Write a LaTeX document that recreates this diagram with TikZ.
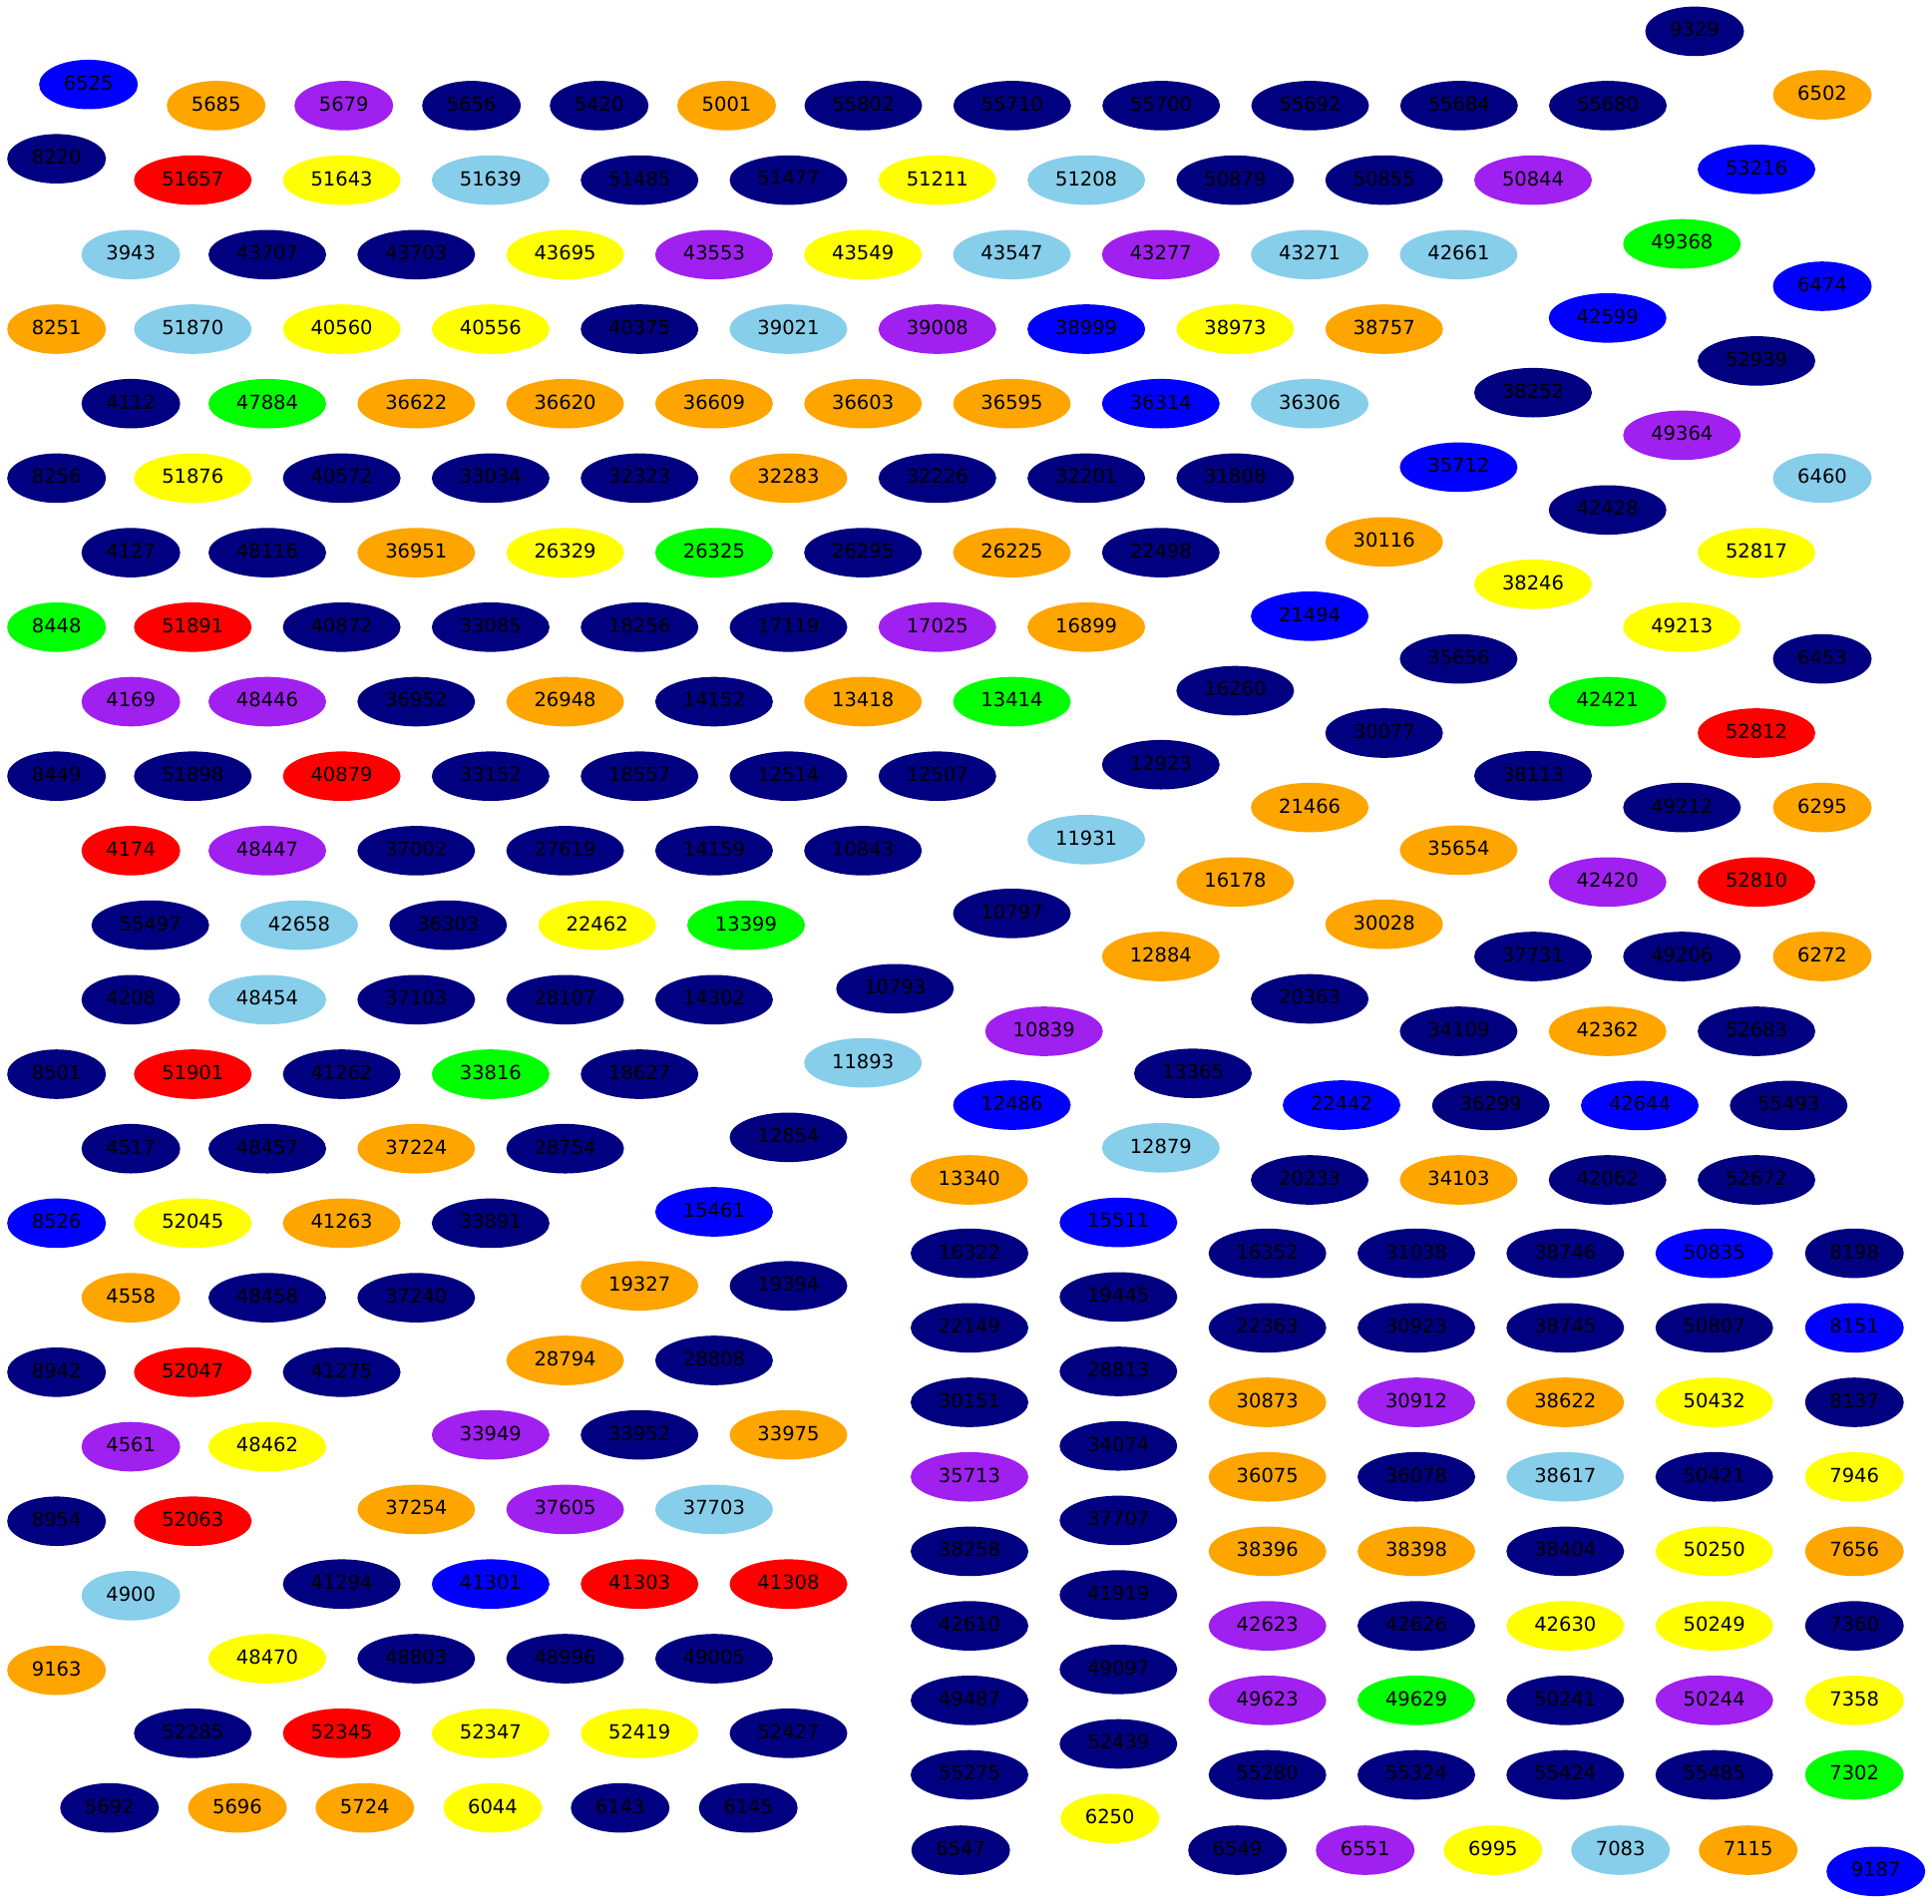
\documentclass[tikz,border=0pt]{standalone}
\usepackage{fontspec}
\usetikzlibrary{shapes.geometric}
\newfontfamily\gfont{DejaVu Sans}
\definecolor{cN}{RGB}{0,0,128}
\definecolor{cB}{RGB}{0,0,255}
\definecolor{cO}{RGB}{255,165,0}
\definecolor{cP}{RGB}{160,32,240}
\definecolor{cR}{RGB}{255,0,0}
\definecolor{cY}{RGB}{255,255,0}
\definecolor{cS}{RGB}{135,206,235}
\definecolor{cG}{RGB}{0,255,0}
\tikzset{gn/.style={ellipse, inner sep=0pt, minimum height=49.6pt, text=black, text depth=3.6pt,
  font=\gfont\fontsize{19.5}{20}\selectfont}}
\newcommand{\gnF}[4]{\node[gn,minimum width=99pt,fill=c#3] (n#4) at (#1,#2) {#4};}
\newcommand{\gnV}[4]{\node[gn,minimum width=118pt,fill=c#3] (n#4) at (#1,#2) {#4};}
\begin{document}
\begin{tikzpicture}[x=1pt,y=-1pt]
\useasboundingbox (0,0) rectangle (1937,1908);
% top
\gnF{88.7}{84.7}{B}{6525}
\gnF{56.7}{159.2}{N}{8220}
\gnF{216.7}{105.9}{O}{5685}
\gnF{344.7}{105.9}{P}{5679}
\gnF{472.7}{105.9}{N}{5656}
\gnF{600.7}{105.9}{N}{5420}
\gnF{728.5}{105.9}{O}{5001}
\gnV{865.5}{105.9}{N}{55802}
\gnV{1014.8}{105.9}{N}{55710}
\gnV{1164.2}{105.9}{N}{55700}
\gnV{1313.5}{105.9}{N}{55692}
\gnV{1462.8}{105.9}{N}{55684}
\gnV{1612}{105.9}{N}{55680}
\gnF{1699}{31.4}{N}{9329}
\gnF{1827}{95.1}{O}{6502}
% r1
\gnV{193.3}{180.6}{R}{51657}
\gnV{342.6}{180.6}{Y}{51643}
\gnV{491.9}{180.6}{S}{51639}
\gnV{641.2}{180.6}{N}{51485}
\gnV{790.5}{180.6}{N}{51477}
\gnV{939.8}{180.6}{Y}{51211}
\gnV{1089.1}{180.6}{S}{51208}
\gnV{1238.4}{180.6}{N}{50879}
\gnV{1387.7}{180.6}{N}{50855}
\gnV{1537}{180.6}{P}{50844}
\gnV{1761}{169.8}{B}{53216}
% r2
\gnF{131.2}{255.3}{S}{3943}
\gnV{268}{255.3}{N}{43707}
\gnV{417.3}{255.3}{N}{43703}
\gnV{566.6}{255.3}{Y}{43695}
\gnV{715.9}{255.3}{P}{43553}
\gnV{865.2}{255.3}{Y}{43549}
\gnV{1014.5}{255.3}{S}{43547}
\gnV{1163.8}{255.3}{P}{43277}
\gnV{1313.1}{255.3}{S}{43271}
\gnV{1462.4}{255.3}{S}{42661}
\gnV{1686.3}{244.5}{G}{49368}
\gnF{1827}{287}{B}{6474}
% r3
\gnF{56.7}{330}{O}{8251}
\gnV{193.3}{330}{S}{51870}
\gnV{342.6}{330}{Y}{40560}
\gnV{491.9}{330}{Y}{40556}
\gnV{641.2}{330}{N}{40375}
\gnV{790.5}{330}{S}{39021}
\gnV{939.8}{330}{P}{39008}
\gnV{1089.1}{330}{B}{38999}
\gnV{1238.4}{330}{Y}{38973}
\gnV{1387.7}{330}{O}{38757}
\gnV{1611.7}{318.8}{B}{42599}
\gnV{1761}{361.9}{N}{52939}
% r4
\gnF{131.2}{404.7}{N}{4112}
\gnV{268}{404.7}{G}{47884}
\gnV{417.3}{404.7}{O}{36622}
\gnV{566.6}{404.7}{O}{36620}
\gnV{715.9}{404.7}{O}{36609}
\gnV{865.2}{404.7}{O}{36603}
\gnV{1014.5}{404.7}{O}{36595}
\gnV{1163.8}{404.7}{B}{36314}
\gnV{1313.1}{404.7}{S}{36306}
\gnV{1537}{393.7}{N}{38252}
\gnV{1686.3}{436.4}{P}{49364}
% r5
\gnF{56.7}{479.4}{N}{8256}
\gnV{193.3}{479.4}{Y}{51876}
\gnV{342.6}{479.4}{N}{40572}
\gnV{491.9}{479.4}{N}{33034}
\gnV{641.2}{479.4}{N}{32323}
\gnV{790.5}{479.4}{O}{32283}
\gnV{939.8}{479.4}{N}{32226}
\gnV{1089.1}{479.4}{N}{32201}
\gnV{1238.4}{479.4}{N}{31808}
\gnV{1462.4}{468.4}{B}{35712}
\gnF{1827}{479.4}{S}{6460}
\gnV{1611.7}{511.3}{N}{42428}
% r6
\gnF{131.2}{554.1}{N}{4127}
\gnV{268}{554.1}{N}{48116}
\gnV{417.3}{554.1}{O}{36951}
\gnV{566.6}{554.1}{Y}{26329}
\gnV{715.9}{554.1}{G}{26325}
\gnV{865.2}{554.1}{N}{26295}
\gnV{1014.5}{554.1}{O}{26225}
\gnV{1163.8}{554.1}{N}{22498}
\gnV{1387.7}{543.3}{O}{30116}
\gnV{1761}{554.1}{Y}{52817}
\gnV{1537}{585.8}{Y}{38246}
% r7
\gnF{56.7}{628.8}{G}{8448}
\gnV{193.3}{628.8}{R}{51891}
\gnV{342.6}{628.8}{N}{40872}
\gnV{491.9}{628.8}{N}{33085}
\gnV{641.2}{628.8}{N}{18256}
\gnV{790.5}{628.8}{N}{17119}
\gnV{939.8}{628.8}{P}{17025}
\gnV{1089.1}{628.8}{O}{16899}
\gnV{1313.1}{617.8}{B}{21494}
\gnV{1686.3}{628.8}{Y}{49213}
\gnV{1462.4}{660.6}{N}{35656}
\gnF{1827}{660.6}{N}{6453}
% r8
\gnF{131.2}{703.5}{P}{4169}
\gnV{268}{703.5}{P}{48446}
\gnV{417.3}{703.5}{N}{36952}
\gnV{566.6}{703.5}{O}{26948}
\gnV{715.9}{703.5}{N}{14152}
\gnV{865.2}{703.5}{O}{13418}
\gnV{1014.5}{703.5}{G}{13414}
\gnV{1238.4}{692.5}{N}{16260}
\gnV{1611.7}{703.5}{G}{42421}
\gnV{1387.7}{735}{N}{30077}
\gnV{1761}{735}{R}{52812}
% r9
\gnF{56.7}{778.2}{N}{8449}
\gnV{193.3}{778.2}{N}{51898}
\gnV{342.6}{778.2}{R}{40879}
\gnV{491.9}{778.2}{N}{33152}
\gnV{641.2}{778.2}{N}{18557}
\gnV{790.5}{778.2}{N}{12514}
\gnV{939.8}{778.2}{N}{12507}
\gnV{1163.8}{766.7}{N}{12923}
\gnV{1537}{777.8}{N}{38113}
\gnV{1313.1}{809.6}{O}{21466}
\gnV{1686.3}{809.6}{N}{49212}
\gnF{1827}{809.6}{O}{6295}
% r10
\gnF{131.2}{852.9}{R}{4174}
\gnV{268}{852.9}{P}{48447}
\gnV{417.3}{852.9}{N}{37002}
\gnV{566.6}{852.9}{N}{27619}
\gnV{715.9}{852.9}{N}{14159}
\gnV{865.2}{852.9}{N}{10843}
\gnV{1089.1}{841.8}{S}{11931}
\gnV{1462.4}{852.4}{O}{35654}
\gnV{1238.4}{884.3}{O}{16178}
\gnV{1611.7}{884.3}{P}{42420}
\gnV{1761}{884.3}{R}{52810}
\gnV{1014.5}{915.8}{N}{10797}
\gnV{1387.7}{926.7}{O}{30028}
% r11
\gnV{150.7}{927.6}{N}{55497}
\gnV{300}{927.6}{S}{42658}
\gnV{449.3}{927.6}{N}{36303}
\gnV{598.7}{927.6}{Y}{22462}
\gnV{748}{927.6}{G}{13399}
\gnV{1163.8}{959}{O}{12884}
\gnV{1537}{959}{N}{37731}
\gnV{1686.3}{959}{N}{49206}
\gnF{1827}{959}{O}{6272}
\gnV{897.3}{991.3}{N}{10793}
% r12
\gnF{131.2}{1002.3}{N}{4208}
\gnV{268}{1002.3}{S}{48454}
\gnV{417.3}{1002.3}{N}{37103}
\gnV{566.6}{1002.3}{N}{28107}
\gnV{715.9}{1002.3}{N}{14302}
\gnV{1313.1}{1001.5}{N}{20363}
\gnV{1046.7}{1034}{P}{10839}
\gnV{1462.4}{1034}{N}{34109}
\gnV{1611.7}{1034}{O}{42362}
\gnV{1761}{1034}{N}{52683}
\gnV{865.2}{1065.6}{S}{11893}
% r13
\gnF{56.7}{1077}{N}{8501}
\gnV{193.3}{1077}{R}{51901}
\gnV{342.6}{1077}{N}{41262}
\gnV{491.9}{1077}{G}{33816}
\gnV{641.2}{1077}{N}{18627}
\gnV{1196}{1076.2}{N}{13365}
\gnV{1014.5}{1108}{B}{12486}
\gnV{1345}{1108}{B}{22442}
\gnV{1494.7}{1108.4}{N}{36299}
\gnV{1644}{1108.4}{B}{42644}
\gnV{1793.3}{1108.4}{N}{55493}
\gnV{790.5}{1140.3}{N}{12854}
% r14
\gnF{131.2}{1151.7}{N}{4517}
\gnV{268}{1151.7}{N}{48457}
\gnV{417.3}{1151.7}{O}{37224}
\gnV{566.6}{1151.7}{N}{28754}
\gnV{1163.8}{1150.8}{S}{12879}
\gnV{971.7}{1183}{O}{13340}
\gnV{1313.1}{1183}{N}{20233}
\gnV{1462.4}{1183}{O}{34103}
\gnV{1611.7}{1183}{N}{42062}
\gnV{1761}{1183}{N}{52672}
\gnV{715.9}{1215}{B}{15461}
% r15
\gnF{56.7}{1226.4}{B}{8526}
\gnV{193.3}{1226.4}{Y}{52045}
\gnV{342.6}{1226.4}{O}{41263}
\gnV{491.9}{1226.4}{N}{33891}
\gnV{1121.3}{1225.6}{B}{15511}
% bottom-right grid
\gnV{972}{1256.6}{N}{16322}
\gnV{972}{1331.3}{N}{22149}
\gnV{972}{1406}{N}{30151}
\gnV{972}{1480.7}{P}{35713}
\gnV{972}{1555.4}{N}{38258}
\gnV{972}{1630.1}{N}{42610}
\gnV{972}{1704.8}{N}{49487}
\gnV{972}{1779.5}{N}{55275}
\gnV{1121.3}{1300.3}{N}{19445}
\gnV{1121.3}{1375}{N}{28813}
\gnV{1121.3}{1449.7}{N}{34074}
\gnV{1121.3}{1524.4}{N}{37707}
\gnV{1121.3}{1599.1}{N}{41919}
\gnV{1121.3}{1673.8}{N}{49097}
\gnV{1121.3}{1748.5}{N}{52439}
\gnV{1270.7}{1256.6}{N}{16352}
\gnV{1270.7}{1331.3}{N}{22363}
\gnV{1270.7}{1406}{O}{30873}
\gnV{1270.7}{1480.7}{O}{36075}
\gnV{1270.7}{1555.4}{O}{38396}
\gnV{1270.7}{1630.1}{P}{42623}
\gnV{1270.7}{1704.8}{P}{49623}
\gnV{1270.7}{1779.5}{N}{55280}
\gnV{1420}{1256.6}{N}{31038}
\gnV{1420}{1331.3}{N}{30923}
\gnV{1420}{1406}{P}{30912}
\gnV{1420}{1480.7}{N}{36078}
\gnV{1420}{1555.4}{O}{38398}
\gnV{1420}{1630.1}{N}{42626}
\gnV{1420}{1704.8}{G}{49629}
\gnV{1420}{1779.5}{N}{55324}
\gnV{1569.3}{1256.6}{N}{38746}
\gnV{1569.3}{1331.3}{N}{38745}
\gnV{1569.3}{1406}{O}{38622}
\gnV{1569.3}{1480.7}{S}{38617}
\gnV{1569.3}{1555.4}{N}{38404}
\gnV{1569.3}{1630.1}{Y}{42630}
\gnV{1569.3}{1704.8}{N}{50241}
\gnV{1569.3}{1779.5}{N}{55424}
\gnV{1718.7}{1256.6}{B}{50835}
\gnV{1718.7}{1331.3}{N}{50807}
\gnV{1718.7}{1406}{Y}{50432}
\gnV{1718.7}{1480.7}{N}{50421}
\gnV{1718.7}{1555.4}{Y}{50250}
\gnV{1718.7}{1630.1}{Y}{50249}
\gnV{1718.7}{1704.8}{P}{50244}
\gnV{1718.7}{1779.5}{N}{55485}
\gnF{1859.2}{1256.6}{N}{8198}
\gnF{1859.2}{1331.3}{B}{8151}
\gnF{1859.2}{1406}{N}{8137}
\gnF{1859.2}{1480.7}{Y}{7946}
\gnF{1859.2}{1555.4}{O}{7656}
\gnF{1859.2}{1630.1}{N}{7360}
\gnF{1859.2}{1704.8}{Y}{7358}
\gnF{1859.2}{1779.5}{G}{7302}
\gnF{1112.7}{1823.2}{Y}{6250}
\gnF{963.2}{1855}{N}{6547}
\gnF{1240.7}{1855}{N}{6549}
\gnF{1368.7}{1855}{P}{6551}
\gnF{1496.8}{1855}{Y}{6995}
\gnF{1624.7}{1855}{S}{7083}
\gnF{1752.7}{1855}{O}{7115}
\gnF{1880.7}{1876.3}{B}{9187}
% lower left
\gnF{131.2}{1301.1}{O}{4558}
\gnV{268}{1301.1}{N}{48458}
\gnV{417.3}{1301.1}{N}{37240}
\gnV{641.2}{1289.2}{O}{19327}
\gnV{790.5}{1289.2}{N}{19394}
\gnF{56.7}{1375.8}{N}{8942}
\gnV{193.3}{1375.8}{R}{52047}
\gnV{342.6}{1375.8}{N}{41275}
\gnV{566.6}{1364}{O}{28794}
\gnV{715.9}{1364}{N}{28808}
\gnF{131.2}{1450.5}{P}{4561}
\gnV{268}{1450.5}{Y}{48462}
\gnV{491.9}{1438.6}{P}{33949}
\gnV{641.2}{1438.6}{N}{33952}
\gnV{790.5}{1438.6}{O}{33975}
\gnF{56.7}{1525.2}{N}{8954}
\gnV{193.3}{1525.2}{R}{52063}
\gnV{417.3}{1513.4}{O}{37254}
\gnV{566.6}{1513.4}{P}{37605}
\gnV{715.9}{1513.4}{S}{37703}
\gnF{131.2}{1599.9}{S}{4900}
\gnV{342.6}{1588.2}{N}{41294}
\gnV{491.9}{1588.2}{B}{41301}
\gnV{641.2}{1588.2}{R}{41303}
\gnV{790.5}{1588.2}{R}{41308}
\gnF{56.7}{1674.6}{O}{9163}
\gnV{268}{1663}{Y}{48470}
\gnV{417.3}{1663}{N}{48803}
\gnV{566.6}{1663}{N}{48996}
\gnV{715.9}{1663}{N}{49005}
\gnV{193.3}{1737.8}{N}{52285}
\gnV{342.6}{1737.8}{R}{52345}
\gnV{491.9}{1737.8}{Y}{52347}
\gnV{641.2}{1737.8}{Y}{52419}
\gnV{790.5}{1737.8}{N}{52427}
\gnF{109.8}{1812.6}{N}{5692}
\gnF{238}{1812.6}{O}{5696}
\gnF{365.8}{1812.6}{O}{5724}
\gnF{494}{1812.6}{Y}{6044}
\gnF{621.8}{1812.6}{N}{6143}
\gnF{750.2}{1812.6}{N}{6145}
\end{tikzpicture}
\end{document}
